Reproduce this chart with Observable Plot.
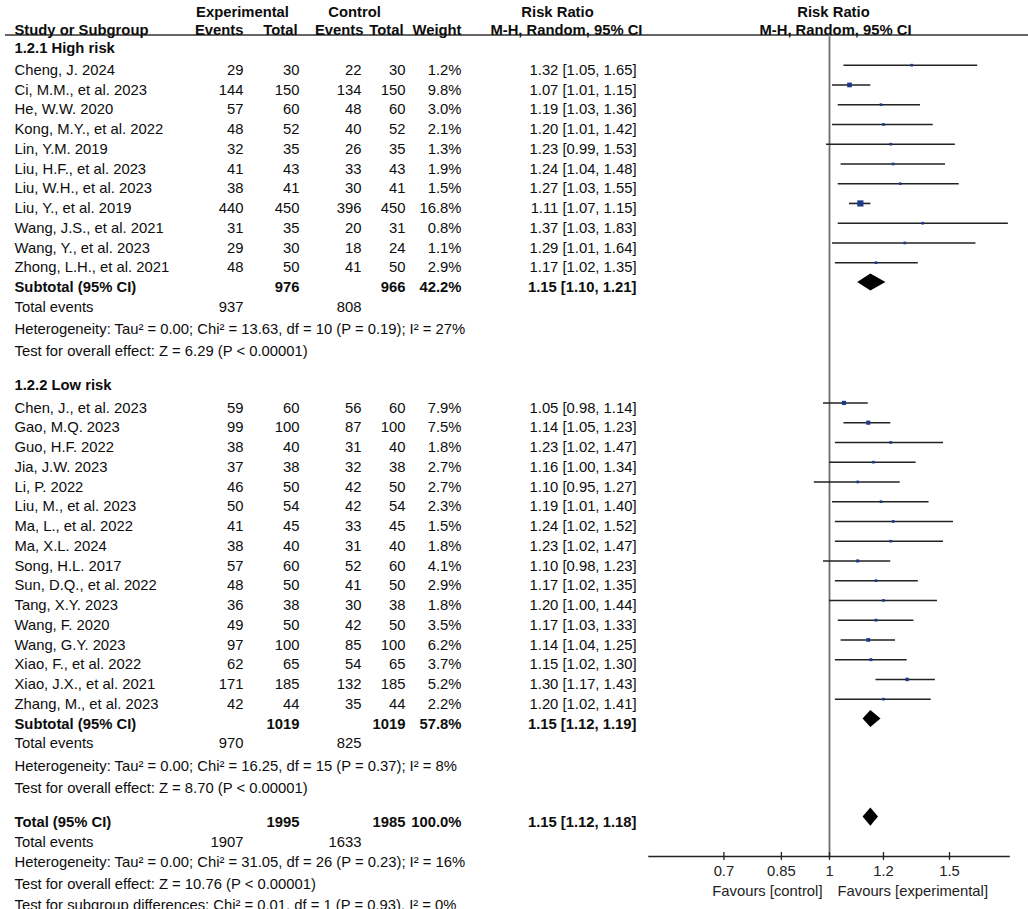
<!DOCTYPE html>
<html><head><meta charset="utf-8">
<script src="https://cdn.jsdelivr.net/npm/d3@7"></script>
<script src="https://cdn.jsdelivr.net/npm/@observablehq/plot@0.6"></script>
<style>body{margin:0;background:#fff}#chart svg{display:block}</style>
</head><body><div id="chart"></div>
<script>
// ---------------- DATA ----------------
const highStudies = ["Cheng, J. 2024","Ci, M.M., et al. 2023","He, W.W. 2020","Kong, M.Y., et al. 2022","Lin, Y.M. 2019","Liu, H.F., et al. 2023","Liu, W.H., et al. 2023","Liu, Y., et al. 2019","Wang, J.S., et al. 2021","Wang, Y., et al. 2023","Zhong, L.H., et al. 2021"];
const highExpEvents = [29,144,57,48,32,41,38,440,31,29,48];
const highExpTotal  = [30,150,60,52,35,43,41,450,35,30,50];
const highCtrlEvents= [22,134,48,40,26,33,30,396,20,18,41];
const highCtrlTotal = [30,150,60,52,35,43,41,450,31,24,50];
const highWeight    = [1.2,9.8,3.0,2.1,1.3,1.9,1.5,16.8,0.8,1.1,2.9];
const highRR        = [1.32,1.07,1.19,1.20,1.23,1.24,1.27,1.11,1.37,1.29,1.17];
const highLo        = [1.05,1.01,1.03,1.01,0.99,1.04,1.03,1.07,1.03,1.01,1.02];
const highHi        = [1.65,1.15,1.36,1.42,1.53,1.48,1.55,1.15,1.83,1.64,1.35];

const lowStudies = ["Chen, J., et al. 2023","Gao, M.Q. 2023","Guo, H.F. 2022","Jia, J.W. 2023","Li, P. 2022","Liu, M., et al. 2023","Ma, L., et al. 2022","Ma, X.L. 2024","Song, H.L. 2017","Sun, D.Q., et al. 2022","Tang, X.Y. 2023","Wang, F. 2020","Wang, G.Y. 2023","Xiao, F., et al. 2022","Xiao, J.X., et al. 2021","Zhang, M., et al. 2023"];
const lowExpEvents = [59,99,38,37,46,50,41,38,57,48,36,49,97,62,171,42];
const lowExpTotal  = [60,100,40,38,50,54,45,40,60,50,38,50,100,65,185,44];
const lowCtrlEvents= [56,87,31,32,42,42,33,31,52,41,30,42,85,54,132,35];
const lowCtrlTotal = [60,100,40,38,50,54,45,40,60,50,38,50,100,65,185,44];
const lowWeight    = [7.9,7.5,1.8,2.7,2.7,2.3,1.5,1.8,4.1,2.9,1.8,3.5,6.2,3.7,5.2,2.2];
const lowRR        = [1.05,1.14,1.23,1.16,1.10,1.19,1.24,1.23,1.10,1.17,1.20,1.17,1.14,1.15,1.30,1.20];
const lowLo        = [0.98,1.05,1.02,1.00,0.95,1.01,1.02,1.02,0.98,1.02,1.00,1.03,1.04,1.02,1.17,1.02];
const lowHi        = [1.14,1.23,1.47,1.34,1.27,1.40,1.52,1.47,1.23,1.35,1.44,1.33,1.25,1.30,1.43,1.41];

const groupTitles   = ["1.2.1 High risk","1.2.2 Low risk"];
const summaryLabels = ["Subtotal (95% CI)","Subtotal (95% CI)","Total (95% CI)"];
const sumExpTotal   = [976,1019,1995];
const sumCtrlTotal  = [966,1019,1985];
const sumWeight     = [42.2,57.8,100.0];
const sumRR         = [1.15,1.15,1.15];
const sumLo         = [1.10,1.12,1.12];
const sumHi         = [1.21,1.19,1.18];
const sumExpEvents  = [937,970,1907];
const sumCtrlEvents = [808,825,1633];
const heterogeneity = ["Heterogeneity: Tau² = 0.00; Chi² = 13.63, df = 10 (P = 0.19); I² = 27%",
                       "Heterogeneity: Tau² = 0.00; Chi² = 16.25, df = 15 (P = 0.37); I² = 8%",
                       "Heterogeneity: Tau² = 0.00; Chi² = 31.05, df = 26 (P = 0.23); I² = 16%"];
const overallEffect = ["Test for overall effect: Z = 6.29 (P < 0.00001)",
                       "Test for overall effect: Z = 8.70 (P < 0.00001)",
                       "Test for overall effect: Z = 10.76 (P < 0.00001)"];
const subgroupTest  = "Test for subgroup differences: Chi² = 0.01, df = 1 (P = 0.93), I² = 0%";
const headerTop     = ["Experimental","Control","Risk Ratio","Risk Ratio"];
const headerBottom  = ["Study or Subgroup","Events","Total","Events","Total","Weight","M-H, Random, 95% CI","M-H, Random, 95% CI"];
const axisTicks     = [0.7,0.85,1,1.2,1.5];
const axisLabels    = ["Favours [control]","Favours [experimental]"];

// ---------------- LAYOUT (row units) ----------------
const FONT = "'Liberation Sans', Arial, Helvetica, sans-serif";
const W = 1028, H = 909, ML = 5, MB = 53;
const FIRST = 69.7, PITCH = 19.75;       // px of first study row, row pitch
const AXIS_ROW = (H - MB - FIRST) / PITCH;
const ROWS = {
  hdr1: -2.95, hdr2: -2.04, underline: -1.78, vtop: -1.7,
  g1: -1.13, s1: 0, sub1: 11, te1: 12, het1: 13.1, oe1: 14.22,
  g2: 15.94, s2: 17.1, sub2: 33.1, te2: 34.1, het2: 35.23, oe2: 36.34,
  tot: 38.07, te3: 39.08, het3: 40.09, oe3: 41.2, sg: 42.27, fav: 41.56
};
// column anchors (pixel offsets from left frame edge)
const COL = {name: 14, ee: 243, et: 299, ce: 361, ct: 405, w: 461, rr: 636};

const fmt2 = v => v.toFixed(2);
const rrText = (r, l, h) => `${fmt2(r)} [${fmt2(l)}, ${fmt2(h)}]`;

// build study rows
const studies = [];
highStudies.forEach((n, i) => studies.push({name: n, ee: highExpEvents[i], et: highExpTotal[i], ce: highCtrlEvents[i], ct: highCtrlTotal[i], w: highWeight[i], rr: highRR[i], lo: highLo[i], hi: highHi[i], y: ROWS.s1 + i}));
lowStudies.forEach((n, i) => studies.push({name: n, ee: lowExpEvents[i], et: lowExpTotal[i], ce: lowCtrlEvents[i], ct: lowCtrlTotal[i], w: lowWeight[i], rr: lowRR[i], lo: lowLo[i], hi: lowHi[i], y: ROWS.s2 + i}));

const sumRows = [ROWS.sub1, ROWS.sub2, ROWS.tot];
const teRows = [ROWS.te1, ROWS.te2, ROWS.te3];
const hetRows = [ROWS.het1, ROWS.het2, ROWS.het3];
const oeRows = [ROWS.oe1, ROWS.oe2, ROWS.oe3];

// table cells
const normalCells = [], boldCells = [];
studies.forEach(s => {
  normalCells.push({col: "name", y: s.y, t: s.name});
  normalCells.push({col: "ee", y: s.y, t: String(s.ee)});
  normalCells.push({col: "et", y: s.y, t: String(s.et)});
  normalCells.push({col: "ce", y: s.y, t: String(s.ce)});
  normalCells.push({col: "ct", y: s.y, t: String(s.ct)});
  normalCells.push({col: "w", y: s.y, t: s.w.toFixed(1) + "%"});
  normalCells.push({col: "rr", y: s.y, t: rrText(s.rr, s.lo, s.hi)});
});
groupTitles.forEach((g, i) => boldCells.push({col: "name", y: [ROWS.g1, ROWS.g2][i], t: g}));
summaryLabels.forEach((l, i) => {
  const y = sumRows[i];
  boldCells.push({col: "name", y, t: l});
  boldCells.push({col: "et", y, t: String(sumExpTotal[i])});
  boldCells.push({col: "ct", y, t: String(sumCtrlTotal[i])});
  boldCells.push({col: "w", y, t: sumWeight[i].toFixed(1) + "%"});
  boldCells.push({col: "rr", y, t: rrText(sumRR[i], sumLo[i], sumHi[i])});
  normalCells.push({col: "name", y: teRows[i], t: "Total events"});
  normalCells.push({col: "ee", y: teRows[i], t: String(sumExpEvents[i])});
  normalCells.push({col: "ce", y: teRows[i], t: String(sumCtrlEvents[i])});
  normalCells.push({col: "name", y: hetRows[i], t: heterogeneity[i]});
  normalCells.push({col: "name", y: oeRows[i], t: overallEffect[i]});
});
normalCells.push({col: "name", y: ROWS.sg, t: subgroupTest});

// diamonds
const diamonds = [];
sumRows.forEach((y, i) => {
  const h = i === 2 ? 0.46 : 0.43;
  diamonds.push({id: i, y: y - h, x1: sumRR[i], x2: sumRR[i]});
  diamonds.push({id: i, y: y, x1: sumLo[i], x2: sumHi[i]});
  diamonds.push({id: i, y: y + h, x1: sumRR[i], x2: sumRR[i]});
});

const TXT = "#0d0d0d";
const textMarks = (cells, weight) => Object.keys(COL).map(c => Plot.text(cells.filter(d => d.col === c), {
  y: "y", text: "t", frameAnchor: "left", dx: COL[c] - ML,
  textAnchor: c === "name" ? "start" : "end", fontWeight: weight, fill: TXT
}));

const headerMarks = [
  Plot.text([headerTop[0]], {y: () => ROWS.hdr1, text: d => d, frameAnchor: "left", dx: 242 - ML, textAnchor: "middle", fontWeight: "bold", fill: TXT}),
  Plot.text([headerTop[1]], {y: () => ROWS.hdr1, text: d => d, frameAnchor: "left", dx: 354 - ML, textAnchor: "middle", fontWeight: "bold", fill: TXT}),
  Plot.text([headerTop[2]], {y: () => ROWS.hdr1, text: d => d, frameAnchor: "left", dx: 557 - ML, textAnchor: "middle", fontWeight: "bold", fill: TXT}),
  Plot.text([headerTop[3]], {x: () => 1, y: () => ROWS.hdr1, text: d => d, dx: 4, textAnchor: "middle", fontWeight: "bold", fill: TXT}),
  Plot.text([headerBottom[0]], {y: () => ROWS.hdr2, text: d => d, frameAnchor: "left", dx: COL.name - ML, textAnchor: "start", fontWeight: "bold", fill: TXT}),
  Plot.text([headerBottom[1]], {y: () => ROWS.hdr2, text: d => d, frameAnchor: "left", dx: 243 - ML, textAnchor: "end", fontWeight: "bold", fill: TXT}),
  Plot.text([headerBottom[2]], {y: () => ROWS.hdr2, text: d => d, frameAnchor: "left", dx: 297 - ML, textAnchor: "end", fontWeight: "bold", fill: TXT}),
  Plot.text([headerBottom[3]], {y: () => ROWS.hdr2, text: d => d, frameAnchor: "left", dx: 363 - ML, textAnchor: "end", fontWeight: "bold", fill: TXT}),
  Plot.text([headerBottom[4]], {y: () => ROWS.hdr2, text: d => d, frameAnchor: "left", dx: 403 - ML, textAnchor: "end", fontWeight: "bold", fill: TXT}),
  Plot.text([headerBottom[5]], {y: () => ROWS.hdr2, text: d => d, frameAnchor: "left", dx: 461 - ML, textAnchor: "end", fontWeight: "bold", fill: TXT}),
  Plot.text([headerBottom[6]], {y: () => ROWS.hdr2, text: d => d, frameAnchor: "left", dx: 642 - ML, textAnchor: "end", fontWeight: "bold", fill: TXT}),
  Plot.text([headerBottom[7]], {x: () => 1, y: () => ROWS.hdr2, text: d => d, dx: 6, textAnchor: "middle", fontWeight: "bold", fill: TXT})
];

const chart = Plot.plot({
  width: W, height: H,
  marginLeft: ML, marginRight: 0, marginTop: 0, marginBottom: MB,
  style: {fontFamily: FONT, fontSize: "14.8px", background: "#fff"},
  x: {type: "log", domain: [0.0618, 1.9588], axis: null},
  y: {domain: [-FIRST / PITCH, AXIS_ROW], reverse: true, axis: null},
  r: {type: "identity"},
  marks: [
    // header separator
    Plot.ruleY([ROWS.underline], {stroke: "#333", strokeWidth: 1.6}),
    // line of no effect
    Plot.ruleX([1], {y1: ROWS.vtop, y2: AXIS_ROW, stroke: "#6e6e6e", strokeWidth: 1.8}),
    // axis line, ticks, labels
    Plot.ruleY([AXIS_ROW], {x1: 0.543, x2: 1.842, stroke: "#222", strokeWidth: 1.5}),
    Plot.ruleX(axisTicks, {x: d => d, y1: AXIS_ROW - 0.2, y2: AXIS_ROW + 0.2, stroke: "#222", strokeWidth: 1.3}),
    Plot.axisX(axisTicks, {anchor: "bottom", tickSize: 0, tickPadding: 9, tickFormat: d => String(d), fill: "#222", fontSize: 14.8}),
    Plot.text([axisLabels[0]], {x: () => 1, y: () => ROWS.fav, text: d => d, dx: -7, textAnchor: "end", fill: "#222"}),
    Plot.text([axisLabels[1]], {x: () => 1, y: () => ROWS.fav, text: d => d, dx: 8, textAnchor: "start", fill: "#222"}),
    // study CIs and squares
    Plot.ruleY(studies, {y: "y", x1: "lo", x2: "hi", dy: -5, stroke: "#222", strokeWidth: 1.6}),
    Plot.dot(studies, {x: "rr", y: "y", dy: -5, symbol: "square", r: d => Math.max(1.5, 0.85 * Math.sqrt(d.w)), fill: "#1b3a8c", stroke: "none"}),
    // diamonds
    Plot.areaX(diamonds, {y: "y", x1: "x1", x2: "x2", z: "id", dy: -5, fill: "black", curve: "linear"}),
    // table
    ...headerMarks,
    ...textMarks(normalCells, "normal"),
    ...textMarks(boldCells, "bold")
  ]
});
document.getElementById("chart").appendChild(chart);
</script>
</body></html>
